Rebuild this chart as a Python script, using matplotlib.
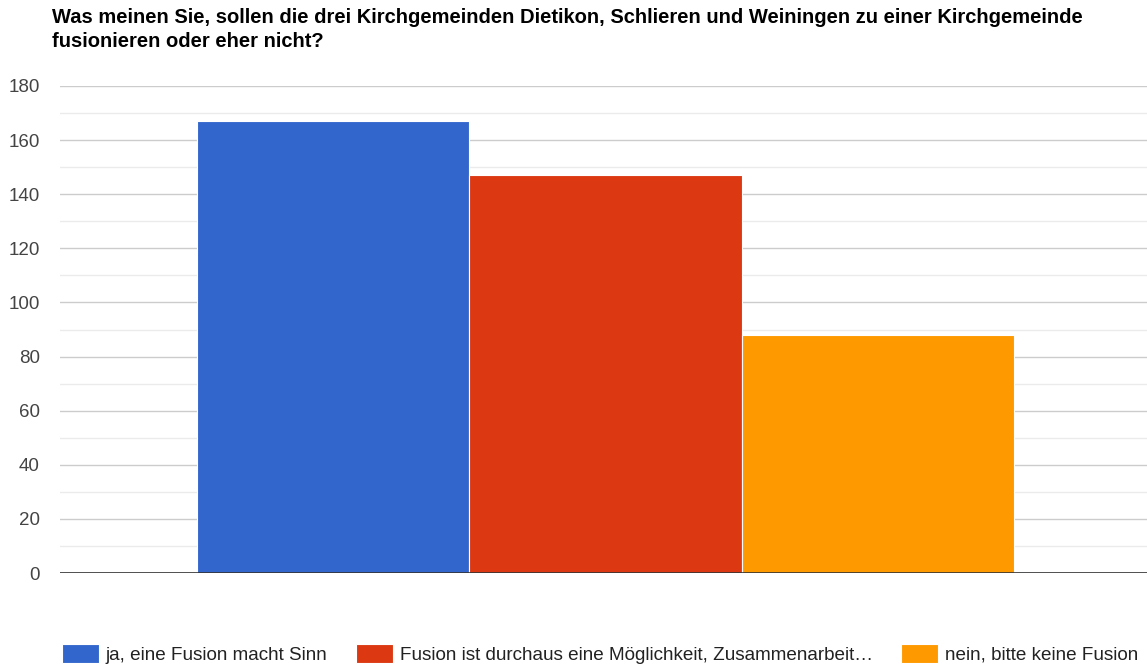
import matplotlib.pyplot as plt
import numpy as np

plt.rcParams['font.family'] = ['Liberation Sans', 'DejaVu Sans']

# Daten
titel = ('Was meinen Sie, sollen die drei Kirchgemeinden Dietikon, Schlieren und Weiningen zu einer Kirchgemeinde\n'
         'fusionieren oder eher nicht?')
antworten = ['ja, eine Fusion macht Sinn',
             'Fusion ist durchaus eine Möglichkeit, Zusammenarbeit…',
             'nein, bitte keine Fusion']
anzahl = [167, 147, 88]
farben = ['#3366cc', '#dc3912', '#ff9900']

W, H = 1147, 665
fig = plt.figure(figsize=(W / 100, H / 100), dpi=100)
ax = fig.add_axes([60 / W, (H - 573) / H, 1 - 60 / W, (573 - 86) / H])

# Balken: eine Gruppe, drei Serien
breite = 0.752 / len(anzahl)
pos = (np.arange(len(anzahl)) - (len(anzahl) - 1) / 2) * breite + 0.002
for x, y, c, lab in zip(pos, anzahl, farben, antworten):
    ax.bar(x, y, width=breite, color=c, edgecolor='white', linewidth=0.8, label=lab, zorder=3)

ax.set_xlim(-0.5, 0.5)
ax.set_ylim(0, 180)
ax.set_yticks(np.arange(0, 181, 20))
ax.set_yticks(np.arange(10, 180, 20), minor=True)
ax.grid(axis='y', which='major', color='#cccccc', linewidth=1, zorder=0)
ax.grid(axis='y', which='minor', color='#ebebeb', linewidth=1, zorder=0)
ax.axhline(0, color='#333333', linewidth=1.2, zorder=4)
ax.set_xticks([])
ax.tick_params(axis='y', which='both', length=0, labelsize=13.5, labelcolor='#444444', pad=14.4)
for s in ax.spines.values():
    s.set_visible(False)

# Titel
fig.text(52 / W, 1 - 8 / H, titel, fontsize=14.5, fontweight='bold', color='#000000',
         va='top', ha='left', linespacing=1.35)

# Legende unten
fig.legend(loc='center left', bbox_to_anchor=(62 / W, 1 - 654 / H), ncol=3, frameon=False,
           fontsize=13.6, handlelength=1.95, handleheight=1.15, handletextpad=0.37,
           columnspacing=1.5, borderpad=0, borderaxespad=0, labelcolor='#222222')

fig.savefig('out.png', dpi=100)
